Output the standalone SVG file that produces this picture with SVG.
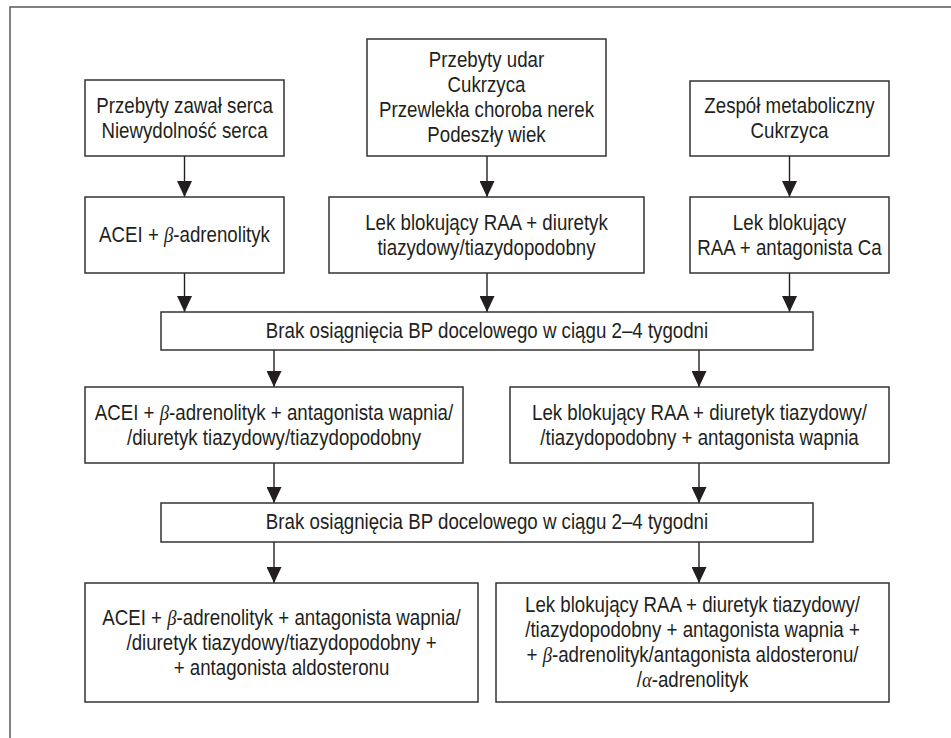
<svg xmlns="http://www.w3.org/2000/svg" width="951" height="738" viewBox="0 0 951 738">
<style>
.box{fill:#fff;stroke:#333;stroke-width:1.5}
.t{font-family:"Liberation Sans",Arial,sans-serif;font-size:22px;fill:#231f20;text-anchor:middle}
.g{font-family:"Liberation Serif","Times New Roman",serif;font-style:italic}
.c{stroke:#231f20;stroke-width:1.4;fill:none;marker-end:url(#ah)}
</style>
<defs>
<marker id="ah" markerUnits="userSpaceOnUse" markerWidth="16" markerHeight="15" refX="16" refY="7.5" orient="auto">
<path d="M0,0 L16,7.5 L0,15 z" fill="#231f20"/>
</marker>
</defs>
<rect width="951" height="738" fill="#fff"/>
<path d="M10,738 L10,7 L951,7" fill="none" stroke="#5a5a5a" stroke-width="1.5"/>

<g id="connectors">
<line class="c" x1="184.5" y1="156" x2="184.5" y2="197"/>
<line class="c" x1="487" y1="156" x2="487" y2="197"/>
<line class="c" x1="789.5" y1="156" x2="789.5" y2="197"/>
<line class="c" x1="184.5" y1="273" x2="184.5" y2="312"/>
<line class="c" x1="487" y1="273" x2="487" y2="312"/>
<line class="c" x1="789.5" y1="273" x2="789.5" y2="312"/>
<line class="c" x1="274" y1="350" x2="274" y2="387"/>
<line class="c" x1="699" y1="350" x2="699" y2="387"/>
<line class="c" x1="274" y1="463" x2="274" y2="503"/>
<line class="c" x1="699" y1="463" x2="699" y2="503"/>
<line class="c" x1="274" y1="542" x2="274" y2="583"/>
<line class="c" x1="699" y1="542" x2="699" y2="583"/>
</g>

<g id="n1">
<rect class="box" x="85" y="80" width="199" height="76"/>
<text class="t" transform="translate(184.5,0) scale(0.85,1)"><tspan x="0" y="113">Przebyty zawał serca</tspan><tspan x="0" y="138">Niewydolność serca</tspan></text>
</g>
<g id="n2">
<rect class="box" x="367" y="39" width="239" height="117"/>
<text class="t" transform="translate(486.5,0) scale(0.85,1)"><tspan x="0" y="67">Przebyty udar</tspan><tspan x="0" y="92">Cukrzyca</tspan><tspan x="0" y="117">Przewlekła choroba nerek</tspan><tspan x="0" y="142">Podeszły wiek</tspan></text>
</g>
<g id="n3">
<rect class="box" x="690" y="81" width="199" height="75"/>
<text class="t" transform="translate(789.5,0) scale(0.85,1)"><tspan x="0" y="113">Zespół metaboliczny</tspan><tspan x="0" y="138">Cukrzyca</tspan></text>
</g>
<g id="n4">
<rect class="box" x="85" y="197" width="199" height="76"/>
<text class="t" transform="translate(184.5,0) scale(0.85,1)"><tspan x="0" y="242">ACEI + <tspan class="g">β</tspan>-adrenolityk</tspan></text>
</g>
<g id="n5">
<rect class="box" x="329" y="197" width="315" height="76"/>
<text class="t" transform="translate(486.5,0) scale(0.85,1)"><tspan x="0" y="230">Lek blokujący RAA + diuretyk</tspan><tspan x="0" y="255">tiazydowy/tiazydopodobny</tspan></text>
</g>
<g id="n6">
<rect class="box" x="690" y="197" width="199" height="76"/>
<text class="t" transform="translate(789.5,0) scale(0.85,1)"><tspan x="0" y="230">Lek blokujący</tspan><tspan x="0" y="255">RAA + antagonista Ca</tspan></text>
</g>
<g id="n7">
<rect class="box" x="161" y="312" width="652" height="38"/>
<text class="t" transform="translate(487,0) scale(0.85,1)"><tspan x="0" y="338">Brak osiągnięcia BP docelowego w ciągu 2–4 tygodni</tspan></text>
</g>
<g id="n8">
<rect class="box" x="85" y="387" width="378" height="76"/>
<text class="t" transform="translate(274,0) scale(0.85,1)"><tspan x="0" y="420">ACEI + <tspan class="g">β</tspan>-adrenolityk + antagonista wapnia/</tspan><tspan x="0" y="445">/diuretyk tiazydowy/tiazydopodobny</tspan></text>
</g>
<g id="n9">
<rect class="box" x="510" y="387" width="379" height="76"/>
<text class="t" transform="translate(699.5,0) scale(0.85,1)"><tspan x="0" y="420">Lek blokujący RAA + diuretyk tiazydowy/</tspan><tspan x="0" y="445">/tiazydopodobny + antagonista wapnia</tspan></text>
</g>
<g id="n10">
<rect class="box" x="161" y="503" width="652" height="39"/>
<text class="t" transform="translate(487,0) scale(0.85,1)"><tspan x="0" y="529.5">Brak osiągnięcia BP docelowego w ciągu 2–4 tygodni</tspan></text>
</g>
<g id="n11">
<rect class="box" x="85" y="583" width="393" height="119"/>
<text class="t" transform="translate(281.5,0) scale(0.85,1)"><tspan x="0" y="625">ACEI + <tspan class="g">β</tspan>-adrenolityk + antagonista wapnia/</tspan><tspan x="0" y="650">/diuretyk tiazydowy/tiazydopodobny +</tspan><tspan x="0" y="675">+ antagonista aldosteronu</tspan></text>
</g>
<g id="n12">
<rect class="box" x="496" y="583" width="393" height="119"/>
<text class="t" transform="translate(692.5,0) scale(0.85,1)"><tspan x="0" y="612">Lek blokujący RAA + diuretyk tiazydowy/</tspan><tspan x="0" y="637">/tiazydopodobny + antagonista wapnia +</tspan><tspan x="0" y="662">+ <tspan class="g">β</tspan>-adrenolityk/antagonista aldosteronu/</tspan><tspan x="0" y="687">/<tspan class="g">α</tspan>-adrenolityk</tspan></text>
</g>
</svg>
